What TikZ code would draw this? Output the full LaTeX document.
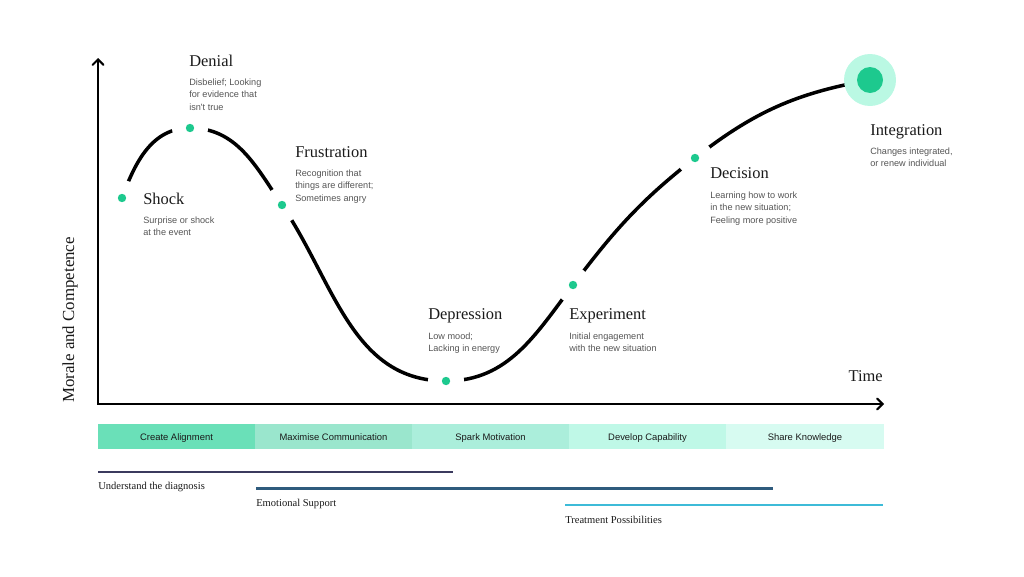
\documentclass[tikz,border=0pt]{standalone}
\usepackage{fontspec}
\setmainfont{Liberation Serif}
\newfontfamily\notefont{Liberation Sans}
\usetikzlibrary{arrows}

\definecolor{mint}{HTML}{1DC98E}
\definecolor{minthalo}{HTML}{BAF8E3}
\definecolor{ink}{HTML}{1A1A1A}
\definecolor{notegray}{HTML}{555555}
\definecolor{barA}{HTML}{6AE0B8}
\definecolor{barB}{HTML}{9AE6CD}
\definecolor{barC}{HTML}{ABEEDB}
\definecolor{barD}{HTML}{BFF8E7}
\definecolor{barE}{HTML}{D7FBF1}
\definecolor{navyline}{HTML}{3B3A5E}
\definecolor{steelline}{HTML}{2F5B7D}
\definecolor{cyanline}{HTML}{3DBBD8}

\tikzset{
	stage/.style={font=\fontsize{11.7}{14}\selectfont, text=ink, inner sep=0, anchor=base west},
	% base of a multi-line note = baseline of its last line
	note/.style={font=\notefont\fontsize{6.5}{8.8}\selectfont, text=notegray, inner sep=0, align=left, anchor=base west},
	phase/.style={font=\notefont\fontsize{6.7}{8}\selectfont, text=ink, inner sep=0, anchor=base},
	track/.style={font=\fontsize{7.5}{9}\selectfont, text=ink, inner sep=0, anchor=base west},
	axis/.style={<->, > = angle 90, line width=1.4pt, black},
	curve/.style={line width=2.5pt, black},
	spot/.style={circle, fill=mint, inner sep=0, minimum size=2.1mm},
}

\begin{document}
\begin{tikzpicture}[x=0.25mm, y=0.25mm]
				\useasboundingbox (0,0) rectangle (1024,-576);
				% axes
				\coordinate (origin) at (98,-404);
				\coordinate (ytop) at (98,-58);
				\coordinate (xend) at (884,-404);
				\draw [axis] (ytop) -- (origin) -- (xend);
				\node[rotate=90, font=\fontsize{12}{14}\selectfont, text=ink, inner sep=0] (ylabel) at (70,-320) {Morale and Competence};
				\node[stage, anchor=base east] (time) at (883,-381) {Time};
				% stages on the curve
				\coordinate (shock) at (122,-198);
				\coordinate (denial) at (190,-128);
				\coordinate (frust) at (282,-205);
				\coordinate (depress) at (446,-381);
				\coordinate (exper) at (573,-285);
				\coordinate (decis) at (695,-158);
				\coordinate (integ) at (870,-80);
				\draw [curve] (shock) to[out=70, in=180] (denial)
					to[out=0, in=124] (frust)
					to[out=-56, in=180] (depress)
					to[out=0, in=-127] (exper)
					to[out=53, in=-142] (decis)
					to[out=38, in=190] (integ);
				\foreach \p in {shock, denial, frust, depress, exper, decis} {
					\fill[white] (\p) circle (18);
					\node[spot] at (\p) {};
				}
				\fill[minthalo] (integ) circle (26);
				\fill[mint] (integ) circle (13);
				% labels
				\node[stage] (denialT) at (189,-66) {Denial};
				\node[note] (denialN) at (189,-110) {Disbelief; Looking\\for evidence that\\isn't true};
				\node[stage] (shockT) at (143,-204) {Shock};
				\node[note] (shockN) at (143,-235.7) {Surprise or shock\\at the event};
				\node[stage] (frustT) at (295,-157) {Frustration};
				\node[note] (frustN) at (295,-201) {Recognition that\\things are different;\\Sometimes angry};
				\node[stage] (depressT) at (428,-319) {Depression};
				\node[note] (depressN) at (428,-351.5) {Low mood;\\Lacking in energy};
				\node[stage] (experT) at (569,-319) {Experiment};
				\node[note] (experN) at (569,-351.5) {Initial engagement\\with the new situation};
				\node[stage] (decisT) at (710,-178) {Decision};
				\node[note] (decisN) at (710,-223) {Learning how to work\\in the new situation;\\Feeling more positive};
				\node[stage] (integT) at (870,-135) {Integration};
				\node[note] (integN) at (870,-166.5) {Changes integrated,\\or renew individual};
				% phase bar
				\fill[barA] (98,-424) rectangle (255,-449);
				\fill[barB] (255,-424) rectangle (412,-449);
				\fill[barC] (412,-424) rectangle (569,-449);
				\fill[barD] (569,-424) rectangle (726,-449);
				\fill[barE] (726,-424) rectangle (884,-449);
				\node[phase] (align) at (176.5,-440.5) {Create Alignment};
				\node[phase] (comm) at (333.5,-440.5) {Maximise Communication};
				\node[phase] (spark) at (490.5,-440.5) {Spark Motivation};
				\node[phase] (develop) at (647.5,-440.5) {Develop Capability};
				\node[phase] (share) at (805,-440.5) {Share Knowledge};
				% support tracks
				\draw[navyline, line width=2.1pt] (98,-472) -- (453,-472);
				\node[track] (diag) at (98,-489) {Understand the diagnosis};
				\draw[steelline, line width=2.1pt] (256,-488.5) -- (773,-488.5);
				\node[track] (emo) at (256,-506) {Emotional Support};
				\draw[cyanline, line width=2.1pt] (565,-505) -- (883,-505);
				\node[track] (treat) at (565,-523) {Treatment Possibilities};
				\end{tikzpicture}
\end{document}
